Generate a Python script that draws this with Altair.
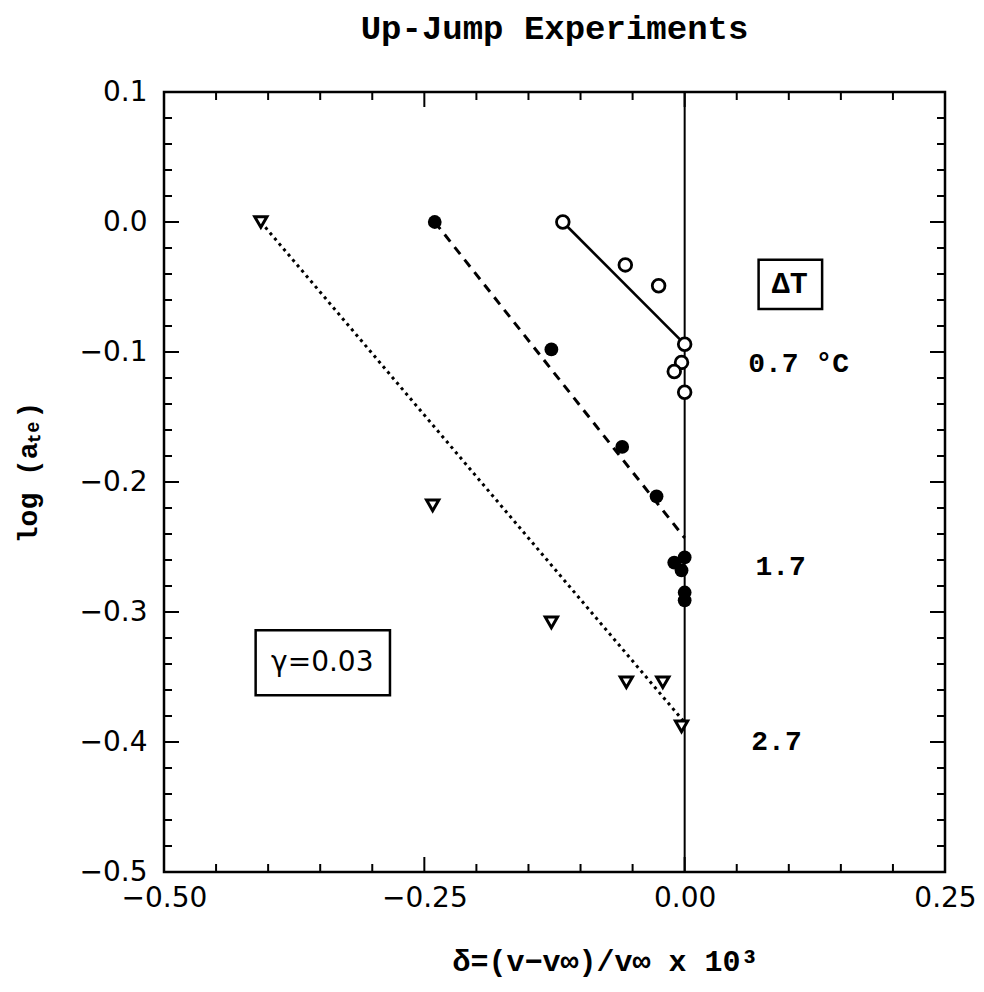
import altair as alt
import pandas as pd

# --- measured points, one series per temperature jump ---
open_x = [-0.117, -0.057, -0.025, 0.0, -0.003, -0.010, 0.0]
open_y = [0.0, -0.033, -0.049, -0.094, -0.108, -0.115, -0.131]

filled_x = [-0.240, -0.128, -0.060, -0.027, -0.010, 0.0, -0.003, 0.0, 0.0]
filled_y = [0.0, -0.098, -0.173, -0.211, -0.262, -0.258, -0.268, -0.285, -0.291]

tri_x = [-0.407, -0.242, -0.128, -0.056, -0.021, -0.003]
tri_y = [0.0, -0.218, -0.308, -0.354, -0.354, -0.388]

# --- fitted straight lines (end points) ---
fit_open_x, fit_open_y = [-0.117, 0.0], [0.0, -0.094]
fit_filled_x, fit_filled_y = [-0.240, 0.0], [0.0, -0.243]
fit_tri_x, fit_tri_y = [-0.407, 0.0], [0.0, -0.385]

# --- annotations ---
label_text = ["0.7 °C", "1.7", "2.7"]
label_x = [0.061, 0.068, 0.064]
label_y = [-0.109, -0.265, -0.400]

box_text = ["ΔT", "γ=0.03"]
box_text_x = [0.101, -0.348]
box_text_y = [-0.048, -0.339]
box_x1 = [0.071, -0.412]
box_x2 = [0.132, -0.283]
box_y1 = [-0.029, -0.314]
box_y2 = [-0.067, -0.364]

# --- axis ticks ---
x_major = [-0.5, -0.25, 0.0, 0.25]
x_minor = [round(-0.5 + 0.05 * k, 2) for k in range(16) if k % 5 != 0]
y_major = [0.1, 0.0, -0.1, -0.2, -0.3, -0.4, -0.5]
y_minor = [round(0.1 - 0.02 * k, 2) for k in range(31) if k % 5 != 0]

W, H = 781, 780
MAJOR, MINOR = 15, 8
MONO = "Liberation Mono"

xs = alt.Scale(domain=[-0.5, 0.25], nice=False, zero=False)
ys = alt.Scale(domain=[-0.5, 0.1], nice=False, zero=False)

x_axis = alt.Axis(
    values=x_major, format=".2f", ticks=False, domain=False, grid=False,
    labelFont="DejaVu Sans", labelFontSize=28, labelColor="black", labelPadding=12,
    labelFlush=False, labelOverlap=False,
    title="δ=(v−v∞)/v∞ x 10³", titleFont=MONO, titleFontSize=30,
    titleFontWeight="bold", titleColor="black", titleX=441, titleY=98,
    titleAlign="center", titleBaseline="alphabetic",
)
y_axis = alt.Axis(
    values=y_major, format=".1f", ticks=False, domain=False, grid=False,
    labelFont="DejaVu Sans", labelFontSize=28, labelColor="black", labelPadding=17,
    labelFlush=False, labelOverlap=False,
    title="log (aₜₑ)", titleFont=MONO, titleFontSize=28,
    titleFontWeight="bold", titleColor="black", titleAngle=270,
    titleX=-136, titleY=380, titleAlign="center", titleBaseline="middle",
)


def X(field="x"):
    return alt.X(f"{field}:Q", scale=xs, axis=x_axis)


def Y(field="y"):
    return alt.Y(f"{field}:Q", scale=ys, axis=y_axis)


def frame(xv, yv):
    return pd.DataFrame({"x": xv, "y": yv})


layers = []

# vertical reference line at delta = 0
layers.append(
    alt.Chart(pd.DataFrame({"x": [0.0]})).mark_rule(color="black", strokeWidth=2).encode(x=X())
)

# inward ticks on all four sides
for vals, L in ((x_major, MAJOR), (x_minor, MINOR)):
    d = pd.DataFrame({"x": vals})
    layers.append(alt.Chart(d).mark_rule(color="black", strokeWidth=2).encode(
        x=X(), y=alt.value(H), y2=alt.value(H - L)))
    layers.append(alt.Chart(d).mark_rule(color="black", strokeWidth=2).encode(
        x=X(), y=alt.value(0), y2=alt.value(L)))
for vals, L in ((y_major, MAJOR), (y_minor, MINOR)):
    d = pd.DataFrame({"y": vals})
    layers.append(alt.Chart(d).mark_rule(color="black", strokeWidth=2).encode(
        y=Y(), x=alt.value(0), x2=alt.value(L)))
    layers.append(alt.Chart(d).mark_rule(color="black", strokeWidth=2).encode(
        y=Y(), x=alt.value(W), x2=alt.value(W - L)))

# fitted lines
layers.append(alt.Chart(frame(fit_open_x, fit_open_y)).mark_line(
    color="black", strokeWidth=2.6).encode(x=X(), y=Y()))
layers.append(alt.Chart(frame(fit_filled_x, fit_filled_y)).mark_line(
    color="black", strokeWidth=3, strokeDash=[9, 7]).encode(x=X(), y=Y()))
layers.append(alt.Chart(frame(fit_tri_x, fit_tri_y)).mark_line(
    color="black", strokeWidth=3, strokeDash=[3, 4]).encode(x=X(), y=Y()))

# data points
layers.append(alt.Chart(frame(open_x, open_y)).mark_point(
    shape="circle", filled=True, fill="white", stroke="black", strokeWidth=2.8,
    size=160, opacity=1).encode(x=X(), y=Y()))
layers.append(alt.Chart(frame(filled_x, filled_y)).mark_point(
    shape="circle", filled=True, color="black", size=190, opacity=1).encode(x=X(), y=Y()))
layers.append(alt.Chart(frame(tri_x, tri_y)).mark_point(
    shape="triangle-down", filled=True, fill="white", stroke="black", strokeWidth=3,
    size=150, opacity=1).encode(x=X(), y=Y()))

# series labels
layers.append(alt.Chart(pd.DataFrame({"x": label_x, "y": label_y, "t": label_text})).mark_text(
    font=MONO, fontSize=28, fontWeight="bold", align="left", baseline="middle",
    color="black"
).encode(x=X(), y=Y(), text="t:N"))

# boxed annotations
boxes = pd.DataFrame({"x": box_x1, "x2": box_x2, "y": box_y1, "y2": box_y2,
                      "tx": box_text_x, "ty": box_text_y, "t": box_text})
layers.append(alt.Chart(boxes).mark_rect(filled=False, stroke="black", strokeWidth=2.5).encode(
    x=X(), x2="x2:Q", y=Y(), y2="y2:Q"))
layers.append(alt.Chart(boxes.iloc[[0]]).mark_text(
    font=MONO, fontSize=30, fontWeight="bold", align="center", baseline="middle",
    color="black"
).encode(x=X("tx"), y=Y("ty"), text="t:N"))
layers.append(alt.Chart(boxes.iloc[[1]]).mark_text(
    font="DejaVu Sans", fontSize=28, align="center", baseline="middle", color="black"
).encode(x=X("tx"), y=Y("ty"), text="t:N"))

chart = alt.layer(*layers).properties(
    width=W, height=H,
    title=alt.TitleParams("Up-Jump Experiments", font=MONO, fontSize=34,
                          fontWeight="bold", color="black", anchor="middle",
                          baseline="alphabetic", offset=5),
    autosize=alt.AutoSizeParams(type="none"),
    padding={"left": 164, "top": 92, "right": 39, "bottom": 120},
    background="white",
).configure_view(stroke="black", strokeWidth=2.5)

chart.save("out.html", embed_options={"renderer": "svg", "actions": False})
